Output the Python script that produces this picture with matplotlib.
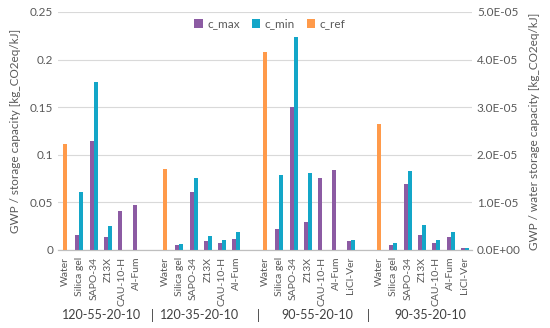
import numpy as np
import matplotlib
matplotlib.use("Agg")
import matplotlib.pyplot as plt

plt.rcParams['font.family'] = ['Lato', 'DejaVu Sans']

# categories (empty strings are spacer slots between groups)
categories = ["Water", "Silica gel", "SAPO-34", "Z13X", "CAU-10-H", "Al-Fum", "",
              "Water", "Silica gel", "SAPO-34", "Z13X", "CAU-10-H", "Al-Fum", "",
              "Water", "Silica gel", "SAPO-34", "Z13X", "CAU-10-H", "Al-Fum", "LiCl-Ver", "",
              "Water", "Silica gel", "SAPO-34", "Z13X", "CAU-10-H", "Al-Fum", "LiCl-Ver"]
groups = ["120-55-20-10", "120-35-20-10", "90-55-20-10", "90-35-20-10"]

n = np.nan
c_max = [n, 0.0158, 0.1145, 0.0140, 0.0410, 0.0470, n,
         n, 0.0053, 0.0606, 0.0098, 0.0070, 0.0112, n,
         n, 0.0217, 0.1506, 0.0298, 0.0756, 0.0844, 0.0095, n,
         n, 0.0053, 0.0697, 0.0161, 0.0077, 0.0133, 0.0020]
c_min = [n, 0.0606, 0.1765, 0.0252, n, n, n,
         n, 0.0063, 0.0753, 0.0147, 0.0105, 0.0186, n,
         n, 0.0785, 0.2234, 0.0812, n, n, 0.0105, n,
         n, 0.0074, 0.0830, 0.0260, 0.0105, 0.0189, 0.0020]
# water reference, secondary axis
c_ref = [2.23e-05, n, n, n, n, n, n,
         1.71e-05, n, n, n, n, n, n,
         4.16e-05, n, n, n, n, n, n, n,
         2.64e-05, n, n, n, n, n, n]

purple = '#8C5BA3'
cyan = '#13A6C8'
orange = '#FF9A4A'
grey = '#595959'

fig = plt.figure(figsize=(5.5, 3.28), dpi=100)
ax = fig.add_axes([58/550, 1-250/328, (472-58)/550, (250-12)/328])
ax2 = ax.twinx()

x = np.arange(len(categories))
w = 0.28
ax.bar(x - w/2, c_max, w, color=purple, label='c_max', zorder=3)
ax.bar(x + w/2, c_min, w, color=cyan, label='c_min', zorder=3)
ax2.bar(x, c_ref, w, color=orange, label='c_ref', zorder=3)

ax.set_xlim(-0.5, len(categories) - 0.5)
ax.set_ylim(0, 0.25)
ax2.set_ylim(0, 5e-05)
ax.set_yticks([0, 0.05, 0.1, 0.15, 0.2, 0.25])
ax.set_yticklabels(["0", "0.05", "0.1", "0.15", "0.2", "0.25"])
ax2.set_yticks([0, 1e-05, 2e-05, 3e-05, 4e-05, 5e-05])
ax2.set_yticklabels(["0.0E+00", "1.0E-05", "2.0E-05", "3.0E-05", "4.0E-05", "5.0E-05"])

ax.grid(axis='y', color='#D9D9D9', linewidth=0.8, zorder=0)
for a in (ax, ax2):
    for s in ['top', 'left', 'right']:
        a.spines[s].set_visible(False)
    a.spines['bottom'].set_color('#BFBFBF')
    a.tick_params(length=0, labelsize=8.5, colors=grey)

ax.set_xticks(x)
ax.set_xticklabels(categories, rotation=90, fontsize=7.5, color=grey)
ax.tick_params(axis='x', pad=5)

ax.set_ylabel("GWP / storage capacity [kg_CO2eq/kJ]", fontsize=8.5, color=grey, labelpad=6)
ax2.set_ylabel("GWP / water storage capacity [kg_CO2eq/kJ]", fontsize=8.5, color=grey, labelpad=6)

# group labels below the tick labels
group_x = [102, 200, 317, 430]
for gx, g in zip(group_x, groups):
    fig.text(gx/550, 1-315/328, g, ha='center', va='center', fontsize=9, color='#404040')
for sx in [152, 258, 368]:
    fig.text(sx/550, 1-315/328, "|", ha='center', va='center', fontsize=9, color='#404040')

h1, l1 = ax.get_legend_handles_labels()
h2, l2 = ax2.get_legend_handles_labels()
ax.legend(h1 + h2, l1 + l2, ncol=3, frameon=False, fontsize=8.5, labelcolor=grey,
          loc='center', bbox_to_anchor=(270/550, 1-24/328), bbox_transform=fig.transFigure,
          handlelength=0.7, handleheight=0.7, handletextpad=0.4, columnspacing=1.0)

fig.savefig("out.png", dpi=100)
